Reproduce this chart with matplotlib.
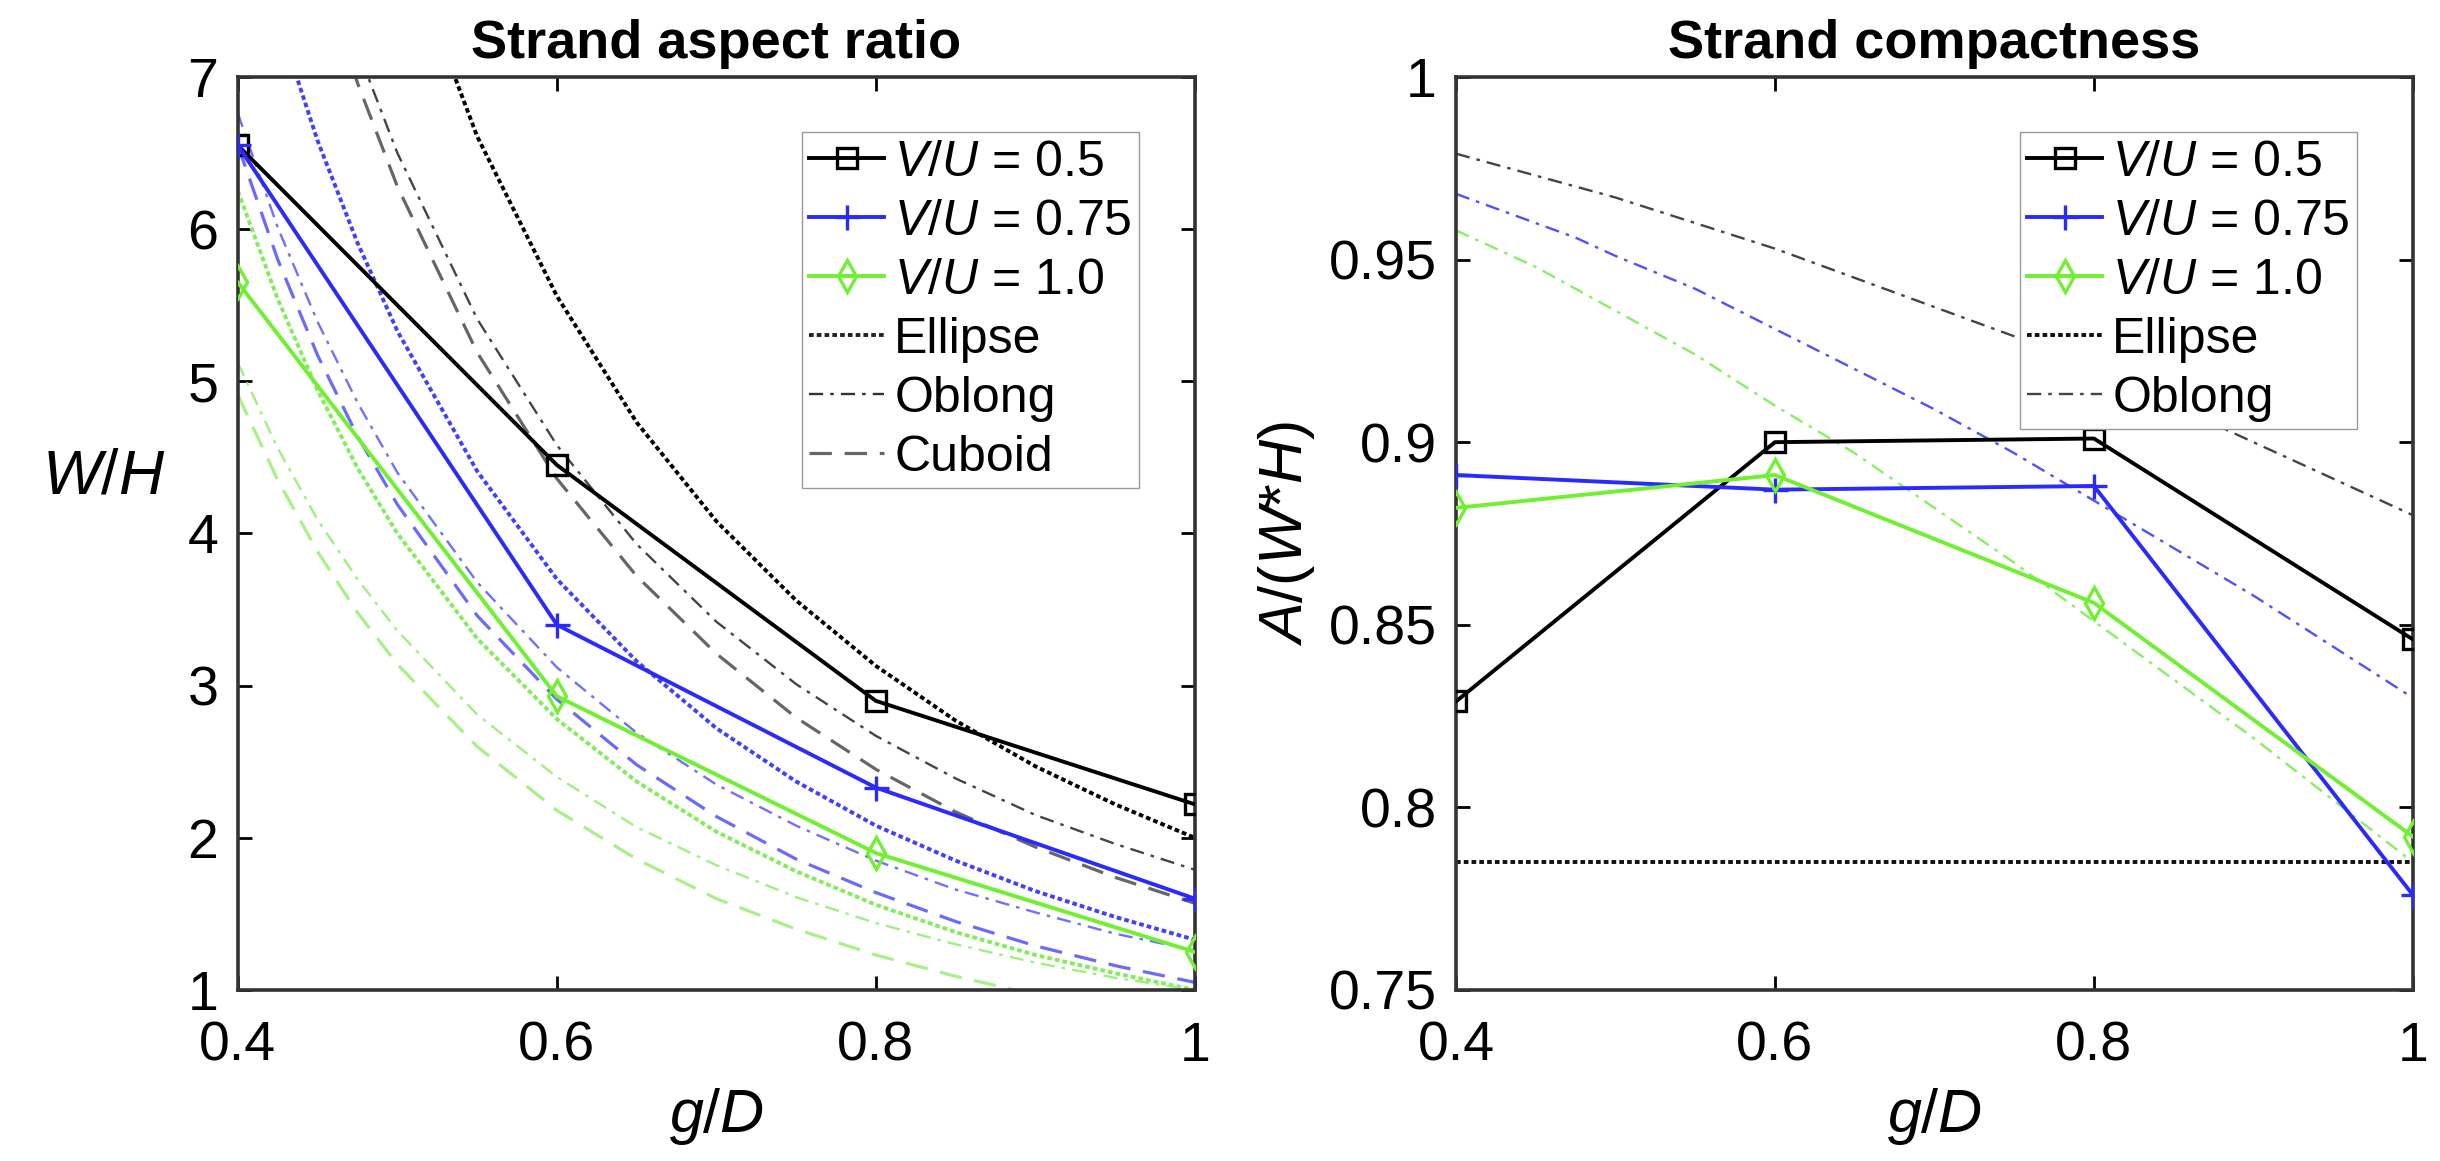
import numpy as np
import matplotlib
matplotlib.use("Agg")
import matplotlib.pyplot as plt

plt.rcParams['font.family'] = ['Liberation Sans', 'DejaVu Sans']
plt.rcParams['mathtext.fontset'] = 'custom'
plt.rcParams['mathtext.it'] = 'Liberation Sans:italic'
plt.rcParams['mathtext.rm'] = 'Liberation Sans'

# measured strands
gd = [0.4, 0.6, 0.8, 1.0]
wh_05 = [6.55, 4.45, 2.90, 2.22]
wh_075 = [6.55, 3.40, 2.33, 1.60]
wh_10 = [5.65, 2.93, 1.90, 1.25]
cp_05 = [0.829, 0.900, 0.901, 0.846]
cp_075 = [0.891, 0.887, 0.888, 0.776]
cp_10 = [0.882, 0.891, 0.856, 0.792]

# model curves
gd_m = [0.40, 0.425, 0.45, 0.475, 0.50, 0.55, 0.60, 0.65, 0.70, 0.75, 0.80, 0.85, 0.90, 0.95, 1.00]
ell_05 = [12.5, 11.07, 9.88, 8.86, 8.00, 6.61, 5.56, 4.73, 4.08, 3.56, 3.13, 2.77, 2.47, 2.22, 2.00]
ell_075 = [8.33, 7.38, 6.58, 5.91, 5.33, 4.41, 3.70, 3.16, 2.72, 2.37, 2.08, 1.85, 1.65, 1.48, 1.33]
ell_10 = [6.25, 5.54, 4.94, 4.43, 4.00, 3.31, 2.78, 2.37, 2.04, 1.78, 1.56, 1.38, 1.23, 1.11, 1.00]
obl_05 = [10.03, 8.91, 7.97, 7.18, 6.50, 5.41, 4.58, 3.93, 3.42, 3.01, 2.67, 2.39, 2.15, 1.96, 1.79]
obl_075 = [6.76, 6.01, 5.39, 4.86, 4.40, 3.68, 3.12, 2.69, 2.35, 2.08, 1.85, 1.66, 1.51, 1.37, 1.26]
obl_10 = [5.12, 4.56, 4.09, 3.70, 3.36, 2.81, 2.40, 2.07, 1.82, 1.61, 1.44, 1.30, 1.18, 1.08, 1.00]
cub_05 = [9.82, 8.70, 7.76, 6.96, 6.28, 5.19, 4.36, 3.72, 3.21, 2.79, 2.45, 2.17, 1.94, 1.74, 1.57]
cub_075 = [6.55, 5.80, 5.17, 4.64, 4.19, 3.46, 2.91, 2.48, 2.14, 1.86, 1.64, 1.45, 1.29, 1.16, 1.05]
cub_10 = [4.91, 4.35, 3.88, 3.48, 3.14, 2.60, 2.18, 1.86, 1.60, 1.40, 1.23, 1.09, 0.97, 0.87, 0.79]

ell_cp = 0.785
oblcp_05 = [0.979, 0.976, 0.973, 0.970, 0.967, 0.960, 0.953, 0.945, 0.937, 0.929, 0.920, 0.910, 0.900, 0.890, 0.880]
oblcp_075 = [0.968, 0.964, 0.960, 0.956, 0.951, 0.942, 0.931, 0.920, 0.909, 0.897, 0.884, 0.871, 0.858, 0.844, 0.830]
oblcp_10 = [0.958, 0.953, 0.948, 0.942, 0.936, 0.924, 0.910, 0.897, 0.882, 0.867, 0.851, 0.835, 0.819, 0.802, 0.785]

labels = [r'$V/U$ = 0.5', r'$V/U$ = 0.75', r'$V/U$ = 1.0']
c_k = 'black'
c_b = '#2a2aff'
c_g = '#70f030'
light = {'k': ('#000000', '#444444', '#666666'),
         'b': ('#4040ff', '#7070ff', '#6a6aff'),
         'g': ('#80ee58', '#a0f080', '#a8f088')}

dot = (0, (1.2, 0.8))
dashdot = (0, (6, 3, 1.5, 3))
dash = (0, (7, 4))

fig = plt.figure(figsize=(24.4, 11.61), dpi=100)
ax1 = fig.add_axes([0.0975, 0.1473, 0.3922, 0.7864])
ax2 = fig.add_axes([0.5967, 0.1473, 0.3922, 0.7864])

leg_kw = dict(loc='upper right', bbox_to_anchor=(0.968, 0.967), fontsize=36,
              handlelength=1.5, handletextpad=0.2, labelspacing=0.26, borderpad=0.15,
              fancybox=False, framealpha=1, edgecolor='#999999')

# left panel: aspect ratio
l1, = ax1.plot(gd, wh_05, '-', color=c_k, marker='s', ms=14, mfc='none', mew=2.4, lw=2.8, zorder=5)
l2, = ax1.plot(gd, wh_075, '-', color=c_b, marker='+', ms=18, mew=2.4, lw=2.8, zorder=5)
l3, = ax1.plot(gd, wh_10, '-', color=c_g, marker='d', ms=16, mfc='none', mew=2.4, lw=2.8, zorder=5)

for key, e, o, c in [('k', ell_05, obl_05, cub_05), ('b', ell_075, obl_075, cub_075), ('g', ell_10, obl_10, cub_10)]:
    ce, co, cc = light[key]
    ax1.plot(gd_m, e, color=ce, ls=dot, lw=2.8)
    ax1.plot(gd_m, o, color=co, ls=dashdot, lw=1.7)
    ax1.plot(gd_m, c, color=cc, ls=dash, lw=2.3)

h_e, = ax1.plot([], [], color='#222222', ls=dot, lw=2.8)
h_o, = ax1.plot([], [], color='#333333', ls=dashdot, lw=1.7)
h_c, = ax1.plot([], [], color='#666666', ls=dash, lw=2.3)

ax1.set_xlim(0.4, 1.0)
ax1.set_ylim(1, 7)
ax1.set_xticks([0.4, 0.6, 0.8, 1.0])
ax1.set_xticklabels(['0.4', '0.6', '0.8', '1'])
ax1.set_yticks([1, 2, 3, 4, 5, 6, 7])
ax1.set_title('Strand aspect ratio', fontsize=39, fontweight='bold', pad=14)
ax1.set_xlabel(r'$g/D$', fontsize=44, labelpad=10)
ax1.set_ylabel(r'$W/H$', fontsize=45, rotation=0)
ax1.yaxis.set_label_coords(-0.14, 0.53)
ax1.legend([l1, l2, l3, h_e, h_o, h_c], labels + ['Ellipse', 'Oblong', 'Cuboid'], **leg_kw)

# right panel: compactness
r1, = ax2.plot(gd, cp_05, '-', color=c_k, marker='s', ms=14, mfc='none', mew=2.4, lw=2.8, zorder=5)
r2, = ax2.plot(gd, cp_075, '-', color=c_b, marker='+', ms=18, mew=2.4, lw=2.8, zorder=5)
r3, = ax2.plot(gd, cp_10, '-', color=c_g, marker='d', ms=16, mfc='none', mew=2.4, lw=2.8, zorder=5)
r_e = ax2.axhline(ell_cp, color='#111111', ls=dot, lw=2.8)
r_o, = ax2.plot(gd_m, oblcp_05, color='#444444', ls=dashdot, lw=1.7)
ax2.plot(gd_m, oblcp_075, color='#5050ff', ls=dashdot, lw=1.7)
ax2.plot(gd_m, oblcp_10, color='#88f060', ls=dashdot, lw=1.7)

ax2.set_xlim(0.4, 1.0)
ax2.set_ylim(0.75, 1.0)
ax2.set_xticks([0.4, 0.6, 0.8, 1.0])
ax2.set_xticklabels(['0.4', '0.6', '0.8', '1'])
ax2.set_yticks([0.75, 0.8, 0.85, 0.9, 0.95, 1.0])
ax2.set_yticklabels(['0.75', '0.8', '0.85', '0.9', '0.95', '1'])
ax2.set_title('Strand compactness', fontsize=39, fontweight='bold', pad=14)
ax2.set_xlabel(r'$g/D$', fontsize=44, labelpad=10)
ax2.set_ylabel(r'$A/(W$*$H)$', fontsize=44, labelpad=8)
ax2.legend([r1, r2, r3, r_e, r_o], labels + ['Ellipse', 'Oblong'], **leg_kw)

for ax in (ax1, ax2):
    ax.tick_params(direction='in', length=10, width=2, labelsize=40, top=True, right=True)
    ax.tick_params(axis='x', pad=22)
    ax.tick_params(axis='y', pad=14)
    for s in ax.spines.values():
        s.set_linewidth(2.6)
        s.set_color('#333333')

fig.savefig('out.png', dpi=100)
